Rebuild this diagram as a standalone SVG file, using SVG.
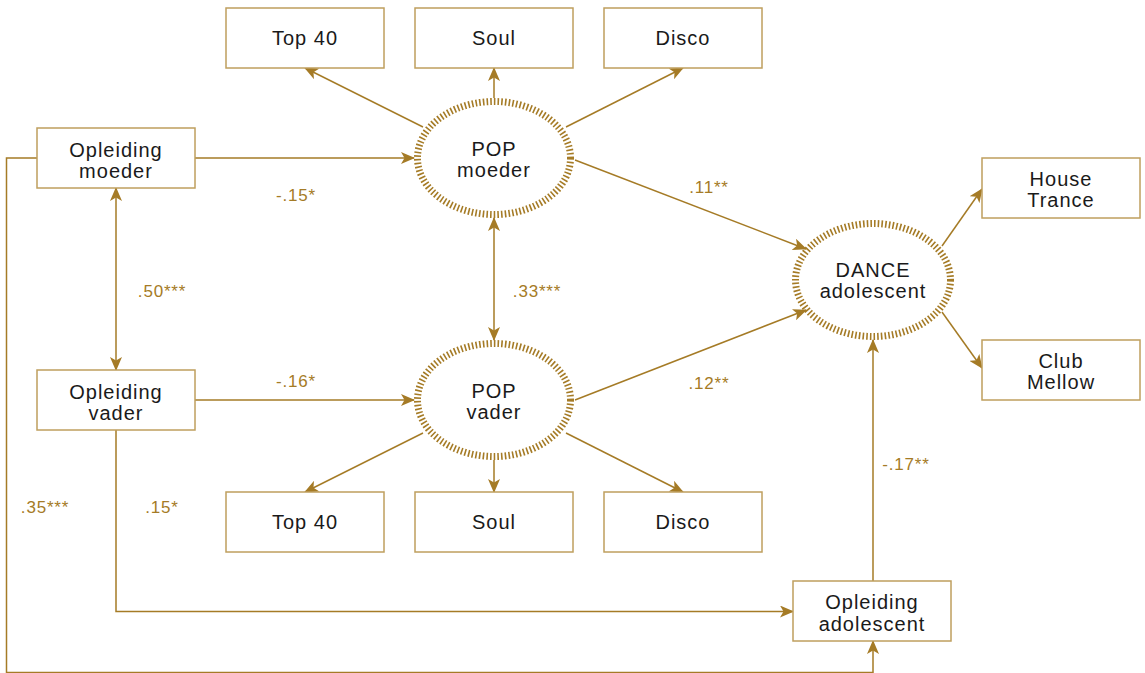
<svg xmlns="http://www.w3.org/2000/svg" width="1145" height="673" viewBox="0 0 1145 673">
<defs>
<marker id="arr" markerUnits="userSpaceOnUse" markerWidth="14" markerHeight="12" refX="13" refY="6" orient="auto-start-reverse">
<path d="M0,0 L14,6 L0,12 L3.5,6 z" fill="#a57b26"/>
</marker>
</defs>
<style>
.box{fill:#fff;stroke:#bf9f5e;stroke-width:1.5}
.lat{fill:#fff;stroke:#a57b26;stroke-width:7;stroke-dasharray:1.6 2.1}
.t{font-family:"Liberation Sans",Arial,sans-serif;font-size:20px;letter-spacing:1px;fill:#1a1a1a;text-anchor:middle}
.l{font-family:"Liberation Sans",Arial,sans-serif;font-size:17px;letter-spacing:0.8px;fill:#a57b26;text-anchor:middle}
.c{fill:none;stroke:#a57b26;stroke-width:1.5}
</style>
<rect width="1145" height="673" fill="#fff"/>
<g id="connectors">
<line class="c" x1="423" y1="127" x2="305" y2="68" marker-end="url(#arr)"/>
<line class="c" x1="494" y1="98" x2="494" y2="68" marker-end="url(#arr)"/>
<line class="c" x1="566" y1="127" x2="683" y2="68" marker-end="url(#arr)"/>
<line class="c" x1="195" y1="158" x2="414" y2="158" marker-end="url(#arr)"/>
<line class="c" x1="116" y1="188" x2="116" y2="370" marker-start="url(#arr)" marker-end="url(#arr)"/>
<line class="c" x1="494" y1="218" x2="494" y2="340" marker-start="url(#arr)" marker-end="url(#arr)"/>
<line class="c" x1="575" y1="160" x2="806" y2="249" marker-end="url(#arr)"/>
<line class="c" x1="575" y1="400" x2="806" y2="310" marker-end="url(#arr)"/>
<line class="c" x1="195" y1="400" x2="414" y2="400" marker-end="url(#arr)"/>
<line class="c" x1="423" y1="433" x2="305" y2="492" marker-end="url(#arr)"/>
<line class="c" x1="494" y1="460" x2="494" y2="492" marker-end="url(#arr)"/>
<line class="c" x1="566" y1="433" x2="683" y2="492" marker-end="url(#arr)"/>
<line class="c" x1="942" y1="246" x2="982" y2="189" marker-end="url(#arr)"/>
<line class="c" x1="942" y1="312" x2="982" y2="368" marker-end="url(#arr)"/>
<line class="c" x1="873" y1="581" x2="873" y2="340" marker-end="url(#arr)"/>
<polyline class="c" points="116,430 116,611.5 793,611.5" marker-end="url(#arr)"/>
<polyline class="c" points="37,158 6.5,158 6.5,672.5 873,672.5 873,641" marker-end="url(#arr)"/>
</g>
<g id="labels">
<text class="l" x="296" y="201">-.15*</text>
<text class="l" x="162" y="297">.50***</text>
<text class="l" x="537" y="297">.33***</text>
<text class="l" x="296" y="387">-.16*</text>
<text class="l" x="709" y="193">.11**</text>
<text class="l" x="709" y="389">.12**</text>
<text class="l" x="45" y="513">.35***</text>
<text class="l" x="162" y="513">.15*</text>
<text class="l" x="906" y="470">-.17**</text>
</g>
<g id="top40a"><rect class="box" x="226" y="8" width="158" height="60"/><text class="t" x="305" y="45">Top 40</text></g>
<g id="soula"><rect class="box" x="415" y="8" width="158" height="60"/><text class="t" x="494" y="45">Soul</text></g>
<g id="discoa"><rect class="box" x="604" y="8" width="158" height="60"/><text class="t" x="683" y="45">Disco</text></g>
<g id="top40b"><rect class="box" x="226" y="492" width="158" height="60"/><text class="t" x="305" y="529">Top 40</text></g>
<g id="soulb"><rect class="box" x="415" y="492" width="158" height="60"/><text class="t" x="494" y="529">Soul</text></g>
<g id="discob"><rect class="box" x="604" y="492" width="158" height="60"/><text class="t" x="683" y="529">Disco</text></g>
<g id="oplmoeder"><rect class="box" x="37" y="128" width="158" height="60"/><text class="t" x="116" y="157">Opleiding</text><text class="t" x="116" y="178">moeder</text></g>
<g id="oplvader"><rect class="box" x="37" y="370" width="158" height="60"/><text class="t" x="116" y="399">Opleiding</text><text class="t" x="116" y="420">vader</text></g>
<g id="opladol"><rect class="box" x="793" y="581" width="158" height="60"/><text class="t" x="872" y="609">Opleiding</text><text class="t" x="872" y="631">adolescent</text></g>
<g id="house"><rect class="box" x="982" y="158" width="158" height="60"/><text class="t" x="1061" y="186">House</text><text class="t" x="1061" y="207">Trance</text></g>
<g id="club"><rect class="box" x="982" y="340" width="158" height="60"/><text class="t" x="1061" y="368">Club</text><text class="t" x="1061" y="389">Mellow</text></g>
<g id="popmoeder"><ellipse class="lat" cx="494" cy="158" rx="76.5" ry="56.5"/><text class="t" x="494" y="156">POP</text><text class="t" x="494" y="177">moeder</text></g>
<g id="popvader"><ellipse class="lat" cx="494" cy="400" rx="76.5" ry="56.5"/><text class="t" x="494" y="398">POP</text><text class="t" x="494" y="419">vader</text></g>
<g id="dance"><ellipse class="lat" cx="873" cy="280" rx="77.5" ry="56.5"/><text class="t" x="873" y="277">DANCE</text><text class="t" x="873" y="298">adolescent</text></g>
</svg>
